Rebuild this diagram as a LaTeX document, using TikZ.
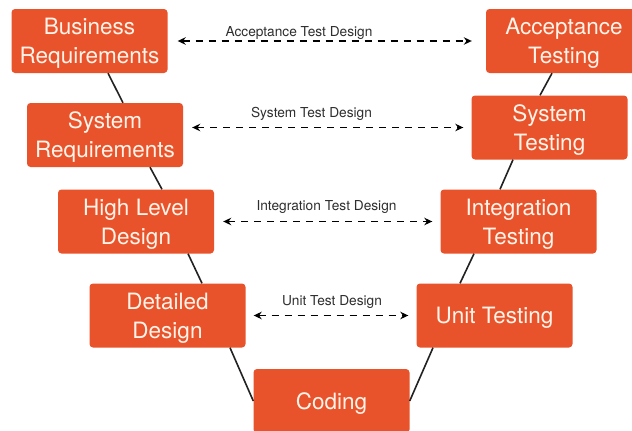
\documentclass[tikz,border=0pt]{standalone}
\usepackage{fontspec}
\setmainfont{TeX Gyre Heros}
\usetikzlibrary{arrows.meta}
\definecolor{boxred}{HTML}{E9532B}
\definecolor{boxtext}{HTML}{FFF4EA}
\definecolor{labelgray}{HTML}{2E2E2E}
\definecolor{linedark}{HTML}{222222}
\tikzset{
  vbox/.style={fill=boxred, draw=none, rounded corners=3.5pt,
    minimum width=156pt, minimum height=64pt, inner sep=0pt,
    text=boxtext, align=center, text depth=0pt,
    font=\fontsize{22.5}{29}\selectfont},
  vlink/.style={draw=linedark, line width=1.6pt},
  darr/.style={draw=black, line width=1.7pt, dash pattern=on 7pt off 6pt,
    {Stealth[length=8pt,width=7.5pt]}-{Stealth[length=8pt,width=7.5pt]}},
  dlabel/.style={text=labelgray, anchor=base, inner sep=0pt,
    font=\fontsize{13.7}{16}\selectfont}
}
\begin{document}
\begin{tikzpicture}[x=1pt,y=-1pt]
\useasboundingbox (0,0) rectangle (632,431);
\clip (0,0) rectangle (632,431);
% left side
\node[vbox] (BR) at (89.5,41) {Business\\Requirements};
\node[vbox] (SR) at (105,135) {System\\Requirements};
\node[vbox] (HLD) at (136,221.5) {High Level\\Design};
\node[vbox] (DD) at (167.5,315.5) {Detailed\\Design};
% bottom
\node[vbox] (CO) at (331.5,401) {Coding};
% right side
\node[vbox] (UT) at (494.5,315.5) {Unit Testing};
\node[vbox] (IT) at (518.5,221.5) {Integration\\Testing};
\node[vbox] (ST) at (549.5,127.5) {System\\Testing};
\node[vbox] (AT) at (564,41) {Acceptance\\Testing};
% V links
\draw[vlink] ([xshift=18.5pt]BR.south) -- ([xshift=18pt]SR.north);
\draw[vlink] ([xshift=45pt]SR.south) -- ([xshift=26pt]HLD.north);
\draw[vlink] ([xshift=52pt]HLD.south) -- ([xshift=34.5pt]DD.north);
\draw[vlink] ([xshift=62.5pt]DD.south) -- (CO.west);
\draw[vlink] (CO.east) -- ([xshift=-61.5pt]UT.south);
\draw[vlink] ([xshift=-34.5pt]UT.north) -- ([xshift=-44.5pt]IT.south);
\draw[vlink] ([xshift=-18.5pt]IT.north) -- ([xshift=-36.5pt]ST.south);
\draw[vlink] ([xshift=-9.5pt]ST.north) -- ([xshift=-12pt]AT.south);
% test design arrows
\draw[darr, shorten <=10pt, shorten >=14pt] (BR.east) -- (AT.west);
\draw[darr, shorten <=9pt, shorten >=8pt] (SR.east |- ST.west) -- (ST.west);
\draw[darr, shorten <=9pt, shorten >=8pt] (HLD.east) -- (IT.west);
\draw[darr, shorten <=8pt, shorten >=8pt] (DD.east) -- (UT.west);
% labels
\node[dlabel] (LA) at (299,36) {Acceptance Test Design};
\node[dlabel] (LS) at (311.5,117) {System Test Design};
\node[dlabel] (LI) at (326.5,210) {Integration Test Design};
\node[dlabel] (LU) at (332,305) {Unit Test Design};
\end{tikzpicture}
\end{document}
